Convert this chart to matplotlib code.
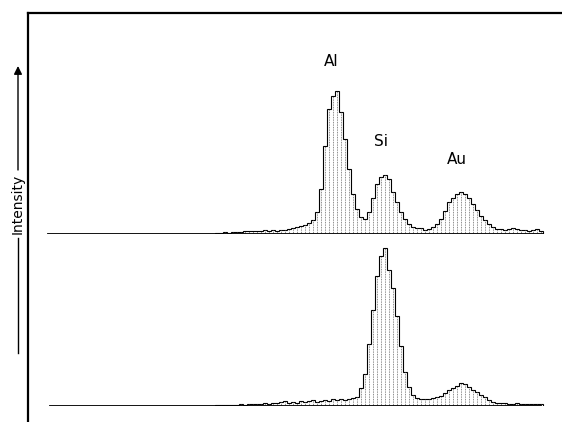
import matplotlib
matplotlib.use("Agg")
import matplotlib.pyplot as plt
import numpy as np

# EDX spectra, 20 eV channels starting at 0.89 keV
channel_start = 0.89
channel_width = 0.02

upper_counts = [
    1, 1, 2, 1, 2, 2, 2, 3, 3, 3, 3, 3, 4, 3, 4, 3, 4, 4, 5, 6,
    7, 8, 9, 11, 14, 22, 45, 88, 125, 138, 143, 122, 95, 65, 40, 25, 17, 15, 22, 36,
    50, 57, 59, 55, 42, 32, 22, 15, 10, 7, 6, 6, 4, 5, 7, 10, 15, 23, 32, 36,
    40, 42, 40, 36, 30, 24, 18, 14, 10, 7, 5, 5, 4, 5, 6, 5, 4, 4, 3, 4,
    5, 3,
]

lower_counts = [
    1, 1, 1, 1, 1, 1, 2, 1, 2, 2, 2, 2, 3, 2, 3, 3, 4, 5, 3, 4,
    3, 5, 4, 5, 6, 4, 5, 6, 5, 7, 6, 7, 6, 7, 8, 9, 18, 32, 62, 96,
    130, 150, 158, 136, 118, 90, 60, 34, 19, 11, 8, 7, 7, 7, 8, 9, 10, 13, 16, 18,
    20, 23, 22, 19, 16, 14, 11, 9, 6, 4, 3, 3, 3, 2, 2, 3, 2, 2, 2, 2,
    2, 2,
]

peak_names = ["Al", "Si", "Au"]
peak_energy = [1.49, 1.74, 2.12]
peak_label_height = [172, 92, 74]

upper_baseline = (0.055, 2.53)
lower_baseline = (0.065, 2.52)


def draw_spectrum(ax, counts, baseline):
    counts = np.array(counts)
    edges = channel_start + channel_width * np.arange(len(counts) + 1)
    centers = (edges[:-1] + edges[1:]) / 2

    ax.vlines(centers, 0, counts, colors="#666666", linestyles=(0, (1, 1)), linewidth=0.6)
    ax.stairs(counts, edges, color="black", linewidth=0.8)
    ax.plot(baseline, [0, 0], color="black", linewidth=1.3)


W, H = 562, 422
fig = plt.figure(figsize=(W / 100, H / 100), dpi=100)

# frame: left and top lines only
frame = fig.add_axes([28 / W, 0, 1 - 28 / W, (H - 13) / H])
frame.set_xticks([])
frame.set_yticks([])
frame.spines["right"].set_visible(False)
frame.spines["bottom"].set_visible(False)
frame.spines["left"].set_linewidth(1.6)
frame.spines["top"].set_linewidth(1.6)
frame.patch.set_visible(False)

xlim = (1.49 - 335 / 200, 1.49 + 227 / 200)

ax_top = fig.add_axes([0, (H - 234) / H, 1, 180 / H])
ax_top.set_xlim(xlim)
ax_top.set_ylim(0, 180)
ax_top.axis("off")
draw_spectrum(ax_top, upper_counts, upper_baseline)

for name, e, h in zip(peak_names, peak_energy, peak_label_height):
    ax_top.text(e - 0.02, h, name, ha="center", va="center", fontsize=11)

ax_bot = fig.add_axes([0, 16 / H, 1, 170 / H])
ax_bot.set_xlim(xlim)
ax_bot.set_ylim(0, 170)
ax_bot.axis("off")
draw_spectrum(ax_bot, lower_counts, lower_baseline)

# intensity label with arrow
fig.text(18 / W, 1 - 204 / H, "Intensity", rotation=90, ha="center", va="center", fontsize=10)
fig.add_artist(plt.Line2D([18 / W, 18 / W], [1 - 353 / H, 1 - 238 / H], color="black", linewidth=1.0))
plt.annotate("", xy=(18 / W, 1 - 66 / H), xytext=(18 / W, 1 - 170 / H),
             xycoords="figure fraction", textcoords="figure fraction",
             arrowprops=dict(arrowstyle="-|>", color="black", lw=1.0, mutation_scale=12,
                             shrinkA=0, shrinkB=0))

fig.savefig("out.png", dpi=100)
